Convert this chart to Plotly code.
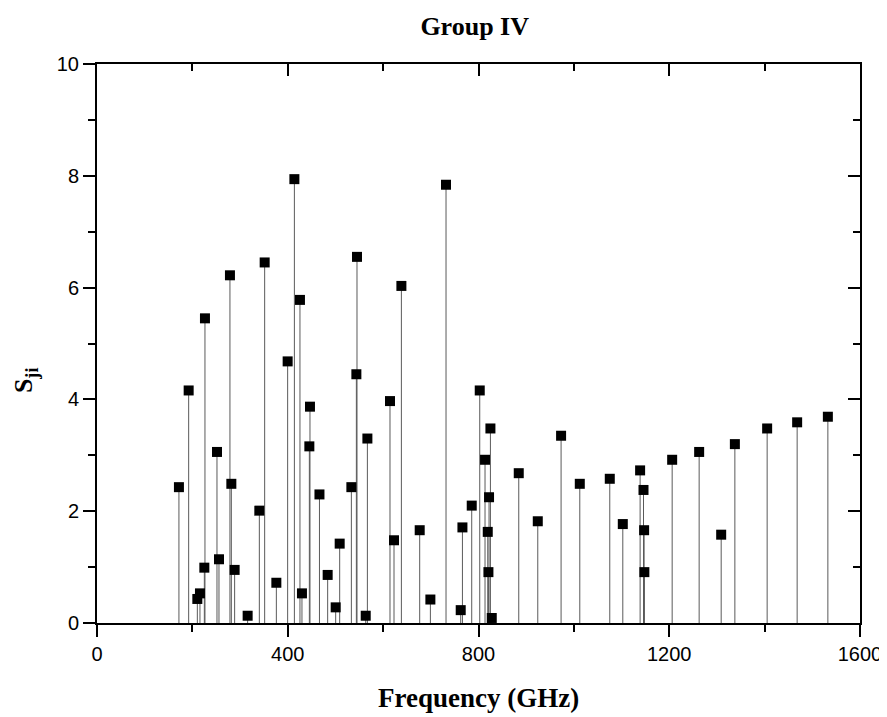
import plotly.graph_objects as go

frequency_ghz = [171.8, 192.2, 210.4, 215.9, 225.1, 226.4, 251.6, 255.8, 278.8, 281.7,
                 288.6, 315.9, 340.4, 351.6, 376.1, 399.8, 413.9, 425.6, 429.8, 445.3,
                 446.6, 466.5, 483.7, 500.5, 508.9, 533.4, 543.9, 545.2, 563.5, 567.0,
                 614.4, 622.8, 638.3, 676.7, 699.1, 731.9, 762.7, 766.3, 785.8, 802.6,
                 813.7, 819.4, 820.8, 822.1, 825.0, 827.8, 884.4, 924.3, 973.2, 1012.4,
                 1075.3, 1102.6, 1138.9, 1146.0, 1147.3, 1147.8, 1206.1, 1262.7, 1308.9, 1337.6,
                 1405.3, 1468.2, 1532.6]
s_ji = [2.43, 4.16, 0.43, 0.53, 0.99, 5.45, 3.06, 1.14, 6.22, 2.49,
        0.95, 0.13, 2.01, 6.45, 0.72, 4.68, 7.94, 5.78, 0.53, 3.16,
        3.87, 2.30, 0.86, 0.28, 1.42, 2.43, 4.45, 6.55, 0.13, 3.30,
        3.97, 1.48, 6.03, 1.66, 0.42, 7.84, 0.23, 1.71, 2.10, 4.16,
        2.92, 1.63, 0.91, 2.25, 3.48, 0.09, 2.68, 1.82, 3.35, 2.49,
        2.58, 1.77, 2.73, 2.38, 1.66, 0.91, 2.92, 3.06, 1.58, 3.20,
        3.48, 3.59, 3.69]

x_ticks = [0, 400, 800, 1200, 1600]
x_minor = [200, 600, 1000, 1400]
y_ticks = [0, 2, 4, 6, 8, 10]
y_minor = [1, 3, 5, 7, 9]

stem_x, stem_y = [], []
for f, v in zip(frequency_ghz, s_ji):
    stem_x += [f, f, None]
    stem_y += [0, v, None]

fig = go.Figure()
fig.add_trace(go.Scatter(x=stem_x, y=stem_y, mode="lines",
                         line=dict(color="#5a5a5a", width=1), hoverinfo="skip",
                         showlegend=False))
fig.add_trace(go.Scatter(x=frequency_ghz, y=s_ji, mode="markers",
                         marker=dict(symbol="square", size=10, color="black"),
                         showlegend=False))
# invisible trace for mirror axes
fig.add_trace(go.Scatter(x=[0], y=[0], xaxis="x2", yaxis="y2", mode="markers",
                         marker=dict(opacity=0), hoverinfo="skip", showlegend=False))

tickfont = dict(family="Liberation Sans, Arial, sans-serif", size=20, color="black")
serif = "Liberation Serif, Times New Roman, serif"

common = dict(tickwidth=1.5, tickcolor="black", showline=True, linecolor="black",
              linewidth=2, showgrid=False, zeroline=False, automargin=False)

fig.update_layout(
    width=887, height=717,
    margin=dict(l=89, r=35, t=56, b=102, autoexpand=False),
    plot_bgcolor="white", paper_bgcolor="white",
    title=dict(text="<b>Group IV</b>", x=0.495, xanchor="center", xref="paper",
               y=1 - 18 / 717, yanchor="middle", yref="container",
               font=dict(family=serif, size=26, color="black")),
    xaxis=dict(range=[0, 1600], tickvals=x_ticks, ticktext=[str(t) for t in x_ticks],
               ticks="outside", ticklen=12,
               minor=dict(tickvals=x_minor, ticks="outside", ticklen=7, tickwidth=1.5, tickcolor="black"),
               tickfont=tickfont, **common),
    yaxis=dict(range=[0, 10], tickvals=y_ticks, ticktext=[str(t) for t in y_ticks],
               ticks="outside", ticklen=12,
               minor=dict(tickvals=y_minor, ticks="outside", ticklen=7, tickwidth=1.5, tickcolor="black"),
               tickfont=tickfont, **common),
    xaxis2=dict(range=[0, 1600], overlaying="x", side="top", anchor="y",
                tickvals=x_ticks, showticklabels=False, ticks="inside", ticklen=12,
                minor=dict(tickvals=x_minor, ticks="inside", ticklen=7, tickwidth=1.5, tickcolor="black"),
                **common),
    yaxis2=dict(range=[0, 10], overlaying="y", side="right", anchor="x",
                tickvals=y_ticks, showticklabels=False, ticks="inside", ticklen=12,
                minor=dict(tickvals=y_minor, ticks="inside", ticklen=7, tickwidth=1.5, tickcolor="black"),
                **common),
    annotations=[
        dict(text="<b>Frequency (GHz)</b>", xref="paper", yref="paper",
             x=0.5, y=-0.134, xanchor="center", yanchor="middle", showarrow=False,
             font=dict(family=serif, size=27, color="black")),
        dict(text="<b>S<sub>ji</sub></b>", xref="paper", yref="paper",
             x=-0.094, y=0.435, xanchor="center", yanchor="middle", showarrow=False,
             textangle=-90, font=dict(family=serif, size=26, color="black")),
    ],
)

fig.write_html("out.html")
